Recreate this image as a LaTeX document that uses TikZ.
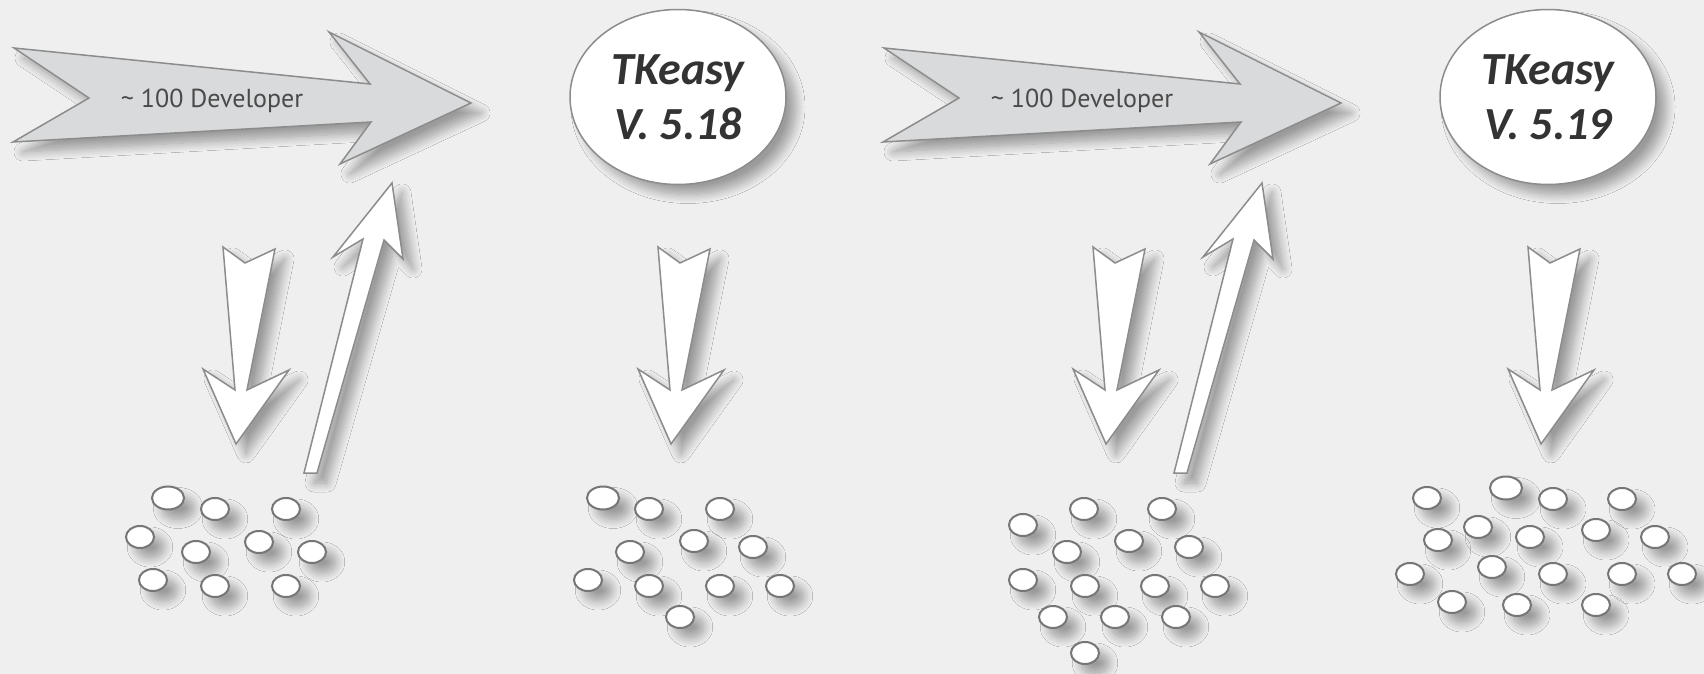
\documentclass[tikz,border=0pt]{standalone}
\usepackage{fontspec}
\usepackage{xcolor}
\usepackage{tikz}
\usetikzlibrary{shapes.geometric,shadows.blur}
\newfontfamily\relfont{Carlito}
\newfontfamily\devfont{PT Sans}
\definecolor{bg}{HTML}{EFEFEF}
\definecolor{arrowfill}{HTML}{D9DADC}
\definecolor{edge}{HTML}{8C8C8C}
\definecolor{dotedge}{HTML}{767676}
\definecolor{ink}{HTML}{333333}
\definecolor{devink}{HTML}{4A4A4A}
\tikzset{
  shade/.style={blur shadow={shadow xshift=5pt, shadow yshift=-5pt, shadow blur radius=4.5pt,
    shadow blur steps=12, shadow opacity=35}},
  bigarrow/.style={draw=edge, fill=arrowfill, line width=0.75pt, line join=miter, shade},
  thinarrow/.style={draw=edge, fill=white, line width=0.75pt, line join=miter, shade},
  release/.style={ellipse, draw=edge, fill=white, line width=0.75pt, shade,
    minimum width=108pt, minimum height=87.5pt, inner sep=0pt, align=center,
    text=ink, font=\relfont\bfseries\itshape\fontsize{23}{27.5}\selectfont},
  devlab/.style={text=devink, font=\devfont\fontsize{13}{15}\selectfont},
  dot/.style={draw=dotedge, fill=white, line width=1pt, shade}
}
\newcommand{\BigArrowAt}[1]{%
  \draw[bigarrow, shift={(#1,0)}] (14,48) -- (370,84) -- (329,32) -- (471,103)
    -- (340,164) -- (371,122) -- (13,142) -- (89,98) -- cycle;
}
\newcommand{\DownArrowAt}[1]{%
  \draw[thinarrow, shift={(#1,0)}] (223,247) -- (245,263) -- (275,249) -- (247,390)
    -- (289,370) -- (236,444) -- (203,369) -- (235,390) -- cycle;
}
\newcommand{\UpArrowAt}[1]{%
  \draw[thinarrow, shift={(#1,0)}] (304,473) -- (317,473) -- (384,240) -- (403,259)
    -- (392,183) -- (333,257) -- (363,239) -- cycle;
}
\begin{document}
\begin{tikzpicture}[x=0.5pt, y=-0.5pt]
  \fill[bg] (0,0) rectangle (1704,674);
  \useasboundingbox (0,0) rectangle (1704,674);

  % developers -> release
  \BigArrowAt{0}
  \BigArrowAt{870}
  \node[devlab] (dev1) at (212,101) {\textasciitilde{} 100 Developer};
  \node[devlab] (dev2) at (1082,101) {\textasciitilde{} 100 Developer};

  % releases
  \node[release] (rel1) at (678,97) {TKeasy\\V. 5.18};
  \node[release] (rel2) at (1548,97) {TKeasy\\V. 5.19};

  % down / up
  \DownArrowAt{0}
  \UpArrowAt{0}
  \DownArrowAt{435}
  \DownArrowAt{870}
  \UpArrowAt{870}
  \DownArrowAt{1305}

  % users
  \draw[dot] (168,498) ellipse [x radius=16, y radius=11.5];
  \foreach \x/\y in {215/509,286/509,140/537,196/552,259/542,312/552,153/580,215/586,286/586}
    \draw[dot] (\x,\y) ellipse [x radius=14, y radius=11];
  \draw[dot] (603,498) ellipse [x radius=16, y radius=11.5];
  \foreach \x/\y in {649/509,720/509,694/541,753/547,630/552,588/580,649/586,720/586,780/586,680/617}
    \draw[dot] (\x,\y) ellipse [x radius=14, y radius=11];
  \foreach \x/\y in {1084/509,1162/509,1023/525,1067/552,1129/541,1189/547,1023/580,1085/586,
                     1155/586,1215/586,1053/617,1115/617,1176/617,1085/653}
    \draw[dot] (\x,\y) ellipse [x radius=14, y radius=11];
  \draw[dot] (1506,488) ellipse [x radius=16, y radius=11.5];
  \foreach \x/\y in {1427/498,1553/499,1622/499,1438/540,1478/527,1530/537,1596/530,1655/537,
                     1410/574,1492/567,1553/574,1622/574,1682/574,1452/602,1517/605,1596/605}
    \draw[dot] (\x,\y) ellipse [x radius=14, y radius=11];
\end{tikzpicture}
\end{document}
